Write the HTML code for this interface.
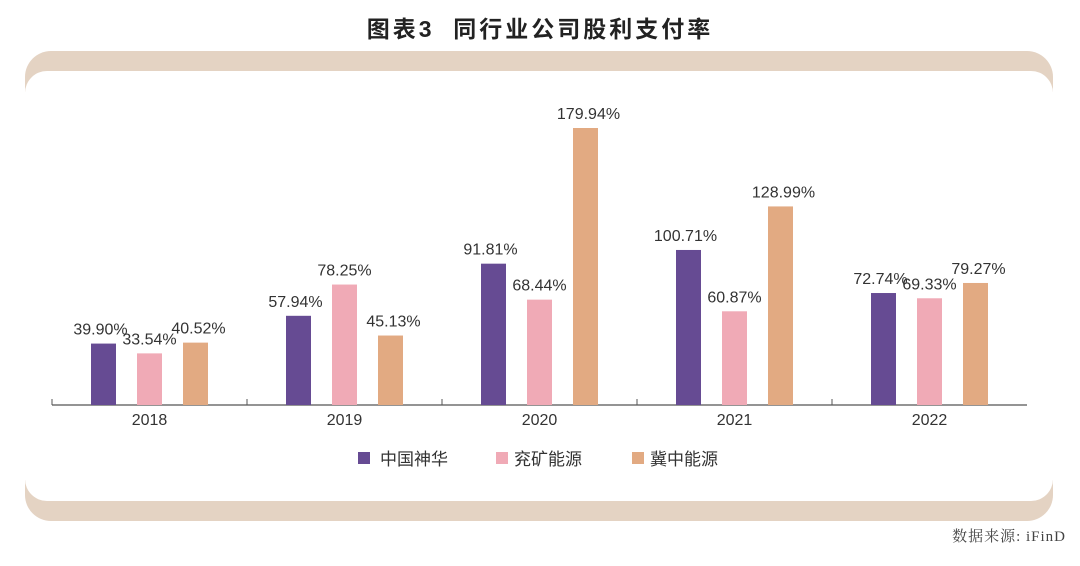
<!DOCTYPE html>
<html><head><meta charset="utf-8"><style>
html,body{margin:0;padding:0;background:#fff;width:1080px;height:566px;overflow:hidden}
svg text{font-family:"Liberation Sans","Noto Sans CJK SC",sans-serif}
</style></head><body>
<svg id="chart" width="1080" height="566" xmlns="http://www.w3.org/2000/svg">
<rect x="25" y="51" width="1028" height="470" rx="26" fill="#e4d3c3"/>
<rect x="25" y="71" width="1028" height="430" rx="22" fill="#fff"/>
<rect x="15" y="92" width="1050" height="388" fill="#fff"/>
<text x="540" y="37" text-anchor="middle" font-size="23" font-weight="bold" fill="#222" letter-spacing="3" xml:space="preserve">图表3  同行业公司股利支付率</text>
<line x1="52" y1="405" x2="1027" y2="405" stroke="#555" stroke-width="1.2"/>
<g id="marks"></g>
<g>
<rect x="358" y="452" width="12" height="12" fill="#664b93"/>
<text x="380" y="465" font-size="17" fill="#333">中国神华</text>
<rect x="496" y="452" width="12" height="12" fill="#f0aab6"/>
<text x="514" y="465" font-size="17" fill="#333">兖矿能源</text>
<rect x="632" y="452" width="12" height="12" fill="#e2aa82"/>
<text x="650" y="465" font-size="17" fill="#333">冀中能源</text>
</g>
<text x="1066" y="541" text-anchor="end" font-size="15" letter-spacing="1" fill="#444" style="font-family:'Liberation Serif','Noto Serif CJK SC',serif">数据来源: iFinD</text>
</svg>
<script>
const categories=["2018","2019","2020","2021","2022"];
const shenhua=[39.90,57.94,91.81,100.71,72.74];
const yankuang=[33.54,78.25,68.44,60.87,69.33];
const jizhong=[40.52,45.13,179.94,128.99,79.27];
const seriesColors=["#664b93","#f0aab6","#e2aa82"];
const seriesNames=["shenhua","yankuang","jizhong"];
const NS="http://www.w3.org/2000/svg";
const g=document.getElementById("marks");
const x0=52,step=195,base=405,pxPer=277/179.94;
function yScale(v){return base-v*pxPer;}
function catCenter(i){return x0+step*(i+0.5);}
const all=[shenhua,yankuang,jizhong];
categories.forEach((c,i)=>{
  const t=document.createElementNS(NS,"line");
  t.setAttribute("x1",x0+step*i);t.setAttribute("x2",x0+step*i);
  t.setAttribute("y1",base-6);t.setAttribute("y2",base);
  t.setAttribute("stroke","#555");
  
  
  g.appendChild(t);
  const lb=document.createElementNS(NS,"text");
  lb.setAttribute("x",catCenter(i));lb.setAttribute("y",425);
  lb.setAttribute("text-anchor","middle");lb.setAttribute("font-size","16");lb.setAttribute("fill","#333");
  lb.textContent=c;
  
  
  g.appendChild(lb);
  all.forEach((s,k)=>{
    const cx=catCenter(i)+(k-1)*46;
    const y=yScale(s[i]);
    const r=document.createElementNS(NS,"rect");
    r.setAttribute("x",cx-12.5);r.setAttribute("width",25);
    r.setAttribute("y",y);r.setAttribute("height",base-y);
    r.setAttribute("fill",seriesColors[k]);
    
    
    g.appendChild(r);
    const v=document.createElementNS(NS,"text");
    v.setAttribute("x",cx+(k-1)*3);v.setAttribute("y",y-9);
    v.setAttribute("text-anchor","middle");v.setAttribute("font-size","16");v.setAttribute("fill","#333");
    v.textContent=s[i].toFixed(2)+"%";
    
    
    g.appendChild(v);
  });
});
</script>
</body></html>
